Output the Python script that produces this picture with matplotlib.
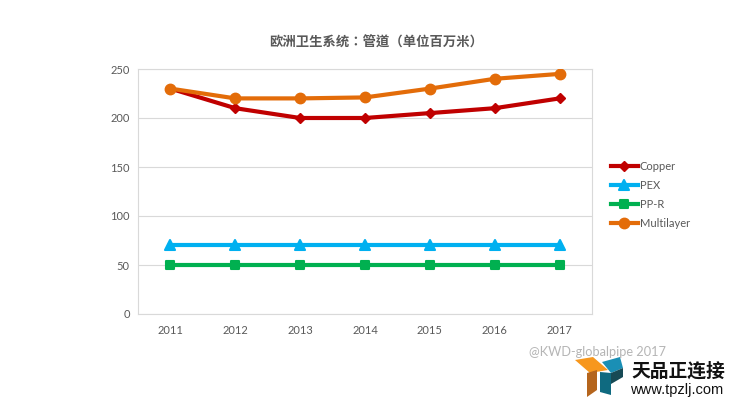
import matplotlib
matplotlib.use("Agg")
import matplotlib.pyplot as plt
from matplotlib.markers import MarkerStyle
from matplotlib.patches import Polygon

plt.rcParams["font.family"] = ["Lato", "Noto Sans CJK SC", "DejaVu Sans"]

W, H = 734, 404

YEARS = ["2011", "2012", "2013", "2014", "2015", "2016", "2017"]
COPPER = [230, 210, 200, 200, 205, 210, 220]
PEX = [70, 70, 70, 70, 70, 70, 70]
PPR = [50, 50, 50, 50, 50, 50, 50]
MULTILAYER = [230, 220, 220, 221, 230, 240, 245]
Y_TICKS = [0, 50, 100, 150, 200, 250]

TITLE = "欧洲卫生系统：管道（单位百万米）"
CREDIT = "@KWD-globalpipe 2017"
STAMP_CN = "天品正连接"
STAMP_URL = "www.tpzlj.com"

GREY = "#595959"
GRID = "#d9d9d9"


def px(x, y):
    # picture pixels to figure fraction
    return x / W, 1 - y / H


def soft(shape):
    return MarkerStyle(shape, joinstyle="round")


fig = plt.figure(figsize=(W / 100, H / 100), dpi=100, facecolor="white")
ax = fig.add_axes([138 / W, 1 - 314 / H, (592 - 138) / W, (314 - 69) / H])

x = list(range(len(YEARS)))
ax.plot(x, COPPER, color="#c00000", lw=3, marker="D", ms=5.5, label="Copper", zorder=3)
ax.plot(x, PEX, color="#00b0f0", lw=3, marker=soft("^"), ms=6.5, mew=1.5, label="PEX", zorder=3)
ax.plot(x, PPR, color="#00b050", lw=3, marker=soft("s"), ms=6.2, mew=1.5, label="PP-R", zorder=3)
ax.plot(x, MULTILAYER, color="#e36c09", lw=3, marker="o", ms=7.5, label="Multilayer", zorder=4)

ax.set_xlim(-0.5, len(YEARS) - 0.5)
ax.set_ylim(0, 250)
ax.set_xticks(x, YEARS)
ax.set_yticks(Y_TICKS)
ax.tick_params(length=0, labelsize=8, labelcolor=GREY)
ax.tick_params(axis="x", pad=8)
ax.tick_params(axis="y", pad=6)
ax.grid(axis="y", color=GRID, lw=0.8)
ax.set_axisbelow(True)
for side in ax.spines.values():
    side.set_color(GRID)
    side.set_linewidth(0.8)

handles, labels = ax.get_legend_handles_labels()
fig.legend(
    handles, labels, loc="center left", bbox_to_anchor=px(601, 195), frameon=False,
    fontsize=8, labelcolor=GREY, handlelength=2.4, labelspacing=0.72,
    handletextpad=0.2,
)

tx, ty = px(376, 43)
fig.text(tx, ty, TITLE, ha="center", va="center", fontsize=9.6, color=GREY, weight="bold",
         family=["Noto Sans CJK TC", "DejaVu Sans"])

# watermark in the bottom right corner
tx, ty = px(529, 352)
fig.text(tx, ty, CREDIT, ha="left", va="center", fontsize=9.2, color="#b5b5b5")

logo = [
    ("#f7971d", [(575, 360), (593, 357), (608, 370), (590, 373)]),
    ("#b5651d", [(587, 373), (597, 370), (597, 390), (587, 397)]),
    ("#1a8fb5", [(602, 362), (620, 357), (623, 368), (611, 373)]),
    ("#0f6a80", [(600, 372), (611, 373), (611, 395), (600, 392)]),
    ("#174a55", [(611, 373), (623, 368), (623, 377), (611, 384)]),
]
for colour, pts in logo:
    fig.add_artist(Polygon([px(*p) for p in pts], closed=True, transform=fig.transFigure,
                           facecolor=colour, edgecolor="none"))

tx, ty = px(678, 371)
fig.text(tx, ty, STAMP_CN, ha="center", va="center", fontsize=13.5, color="#111111", weight="bold",
         family=["Noto Sans CJK SC", "DejaVu Sans"])
tx, ty = px(677, 390)
fig.text(tx, ty, STAMP_URL, ha="center", va="center", fontsize=10.5, color="#111111",
         family="Liberation Sans")

fig.savefig("out.png", dpi=100, facecolor="white")
